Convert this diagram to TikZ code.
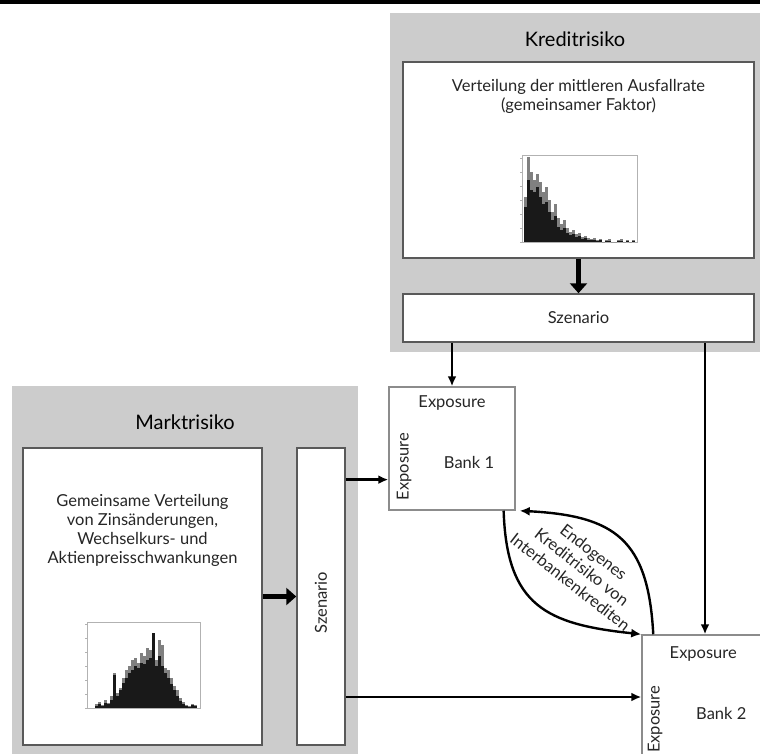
\documentclass[tikz,border=0pt]{standalone}
\usepackage{fontspec}
\setmainfont{Lato}
\usetikzlibrary{arrows.meta, positioning, calc}

\begin{document}
\begin{tikzpicture}[
		x=1pt, y=-1pt,
		% --- Stile ---
		panel/.style={fill=black!20, draw=none, inner sep=0pt},
		kasten/.style={draw=black!65, line width=1.5pt, fill=white, inner sep=0pt},
		bank/.style={kasten, draw=black!45, minimum width=126pt, minimum height=124pt},
		titel/.style={font=\fontsize{20}{23}\selectfont},
		text_normal/.style={font=\fontsize{16.5}{19}\selectfont, text=black!85, align=center},
		pfeil/.style={-{Latex[length=10pt, width=9pt]}, line width=2.4pt},
		pfeil_dick/.style={-{Triangle[length=10pt, width=17pt]}, line width=5.5pt},
		balken/.style={fill=black!90},
		balken_grau/.style={fill=black!50},
		achse/.style={black!30, line width=0.6pt}
		]
		\clip (0,0) rectangle (760,754);
		\fill[black] (0,0) rectangle (760,4);

		% 1. Kreditrisiko (oben rechts)
		\node[panel, minimum width=370pt, minimum height=339pt] (kredit) at (575,182.5) {};
		\node[titel, below=15pt of kredit.north] {Kreditrisiko};
		\node[kasten, minimum width=351pt, minimum height=196pt] (distK) at (578.5,160) {};
		\node[text_normal, below=15pt of distK.north] {Verteilung der mittleren Ausfallrate\\(gemeinsamer Faktor)};
		\node[kasten, minimum width=351pt, minimum height=48pt] (szenK) at (578.5,318) {};
		\node[text_normal] at (szenK) {Szenario};

		% Histogramm der Ausfallrate
		\begin{scope}[shift={(522,242)}]
			\draw[achse] (0,0) rectangle (115,-87);
			\foreach \t in {0,...,6} \draw[achse] (-2,-\t*14) -- (0,-\t*14);
			\foreach \h [count=\i] in {45,85,70,62,68,60,50,55,42,30,38,24,18,22,14,10,12,8,9,5,6,4,3,4,2,3,0,2,3,0,0,2,3,0,2,0,2}
				\fill[balken_grau] (\i*3-1,0) rectangle ++(3,-\h);
			\foreach \h [count=\i] in {35,62,52,50,55,45,38,40,30,22,26,15,12,14,9,7,8,5,6,3,4,2,2,2,1,2,0,1,1,0,0,1,1,0,1,0,1}
				\fill[balken] (\i*3-1,0) rectangle ++(3,-\h);
		\end{scope}

		% 2. Marktrisiko (unten links)
		\node[panel, minimum width=346pt, minimum height=368pt] (markt) at (185,570) {};
		\node[titel, below=25pt of markt.north] {Marktrisiko};
		\node[kasten, minimum width=239pt, minimum height=297pt] (distM) at (142.5,596.5) {};
		\node[text_normal] at ($(distM.north)+(0,83)$) {Gemeinsame Verteilung\\von Zinsänderungen,\\Wechselkurs- und\\Aktienpreisschwankungen};
		\node[kasten, minimum width=48pt, minimum height=297pt] (szenM) at (321,596.5) {};
		\node[text_normal, rotate=90] at ($(szenM.center)+(0,6)$) {Szenario};

		% Histogramm der Marktfaktoren
		\begin{scope}[shift={(87,708)}]
			\draw[achse] (0,0) rectangle (113,-86);
			\foreach \t in {0,...,6} \draw[achse] (-2,-\t*14) -- (0,-\t*14);
			\foreach \h [count=\i] in {4,6,3,8,5,12,35,15,20,30,38,42,48,50,45,55,52,60,58,75,48,68,63,40,38,30,22,18,10,6,3,2,4,3}
				\fill[balken_grau] (\i*3+5,0) rectangle ++(3,-\h);
			\foreach \h [count=\i] in {2,4,2,5,4,8,33,12,18,25,30,35,38,42,40,45,44,48,50,75,42,52,42,35,30,24,18,12,7,4,2,1,3,2}
				\fill[balken] (\i*3+5,0) rectangle ++(3,-\h);
		\end{scope}

		% 3. Banken
		\node[bank, minimum height=123pt] (bank1) at (452,448.5) {};
		\node[text_normal, below=6pt of bank1.north] {Exposure};
		\node[text_normal] at ($(bank1.center)+(17,14)$) {Bank 1};
		\node[text_normal, rotate=90, anchor=north] at ($(bank1.west)+(5,18)$) {Exposure};

		\node[bank] (bank2) at (705,697) {};
		\node[text_normal] at ($(bank2.north west)+(62,20)$) {Exposure};
		\node[text_normal] at ($(bank2.north west)+(80,79)$) {Bank 2};
		\node[text_normal, rotate=90, anchor=north] at ($(bank2.north west)+(3,85)$) {Exposure};

		% 4. Pfeile
		\draw[pfeil_dick] (distK) -- (szenK);
		\draw[pfeil_dick] (distM) -- (szenM);
		\draw[pfeil] (szenK.south -| bank1.north) -- (bank1.north);
		\draw[pfeil] (szenK.south -| bank2.north) -- (bank2.north);
		\coordinate (b1_ein) at ($(bank1.south west)!0.25!(bank1.north west)$);
		\draw[pfeil] (szenM.east |- b1_ein) -- (b1_ein);
		\draw[pfeil] (szenM.east |- bank2.west) -- (bank2.west);

		% Interbankenkredite in beide Richtungen
		\coordinate (b1_unten) at ($(bank1.south west)!0.905!(bank1.south east)$);
		\coordinate (b2_oben) at ($(bank2.north west)+(12,0)$);
		\coordinate (b1_ecke) at ($(bank1.south east)+(4,0)$);
		\draw[pfeil] (b1_unten) .. controls +(3,95) and +(-95,-10) .. (bank2.north west);
		\draw[pfeil] (b2_oben) .. controls +(-5,-95) and +(95,5) .. (b1_ecke);
		\node[text_normal, rotate=-38] at (582,567) {Endogenes\\Kreditrisiko von\\Interbankenkrediten};
\end{tikzpicture}
\end{document}
